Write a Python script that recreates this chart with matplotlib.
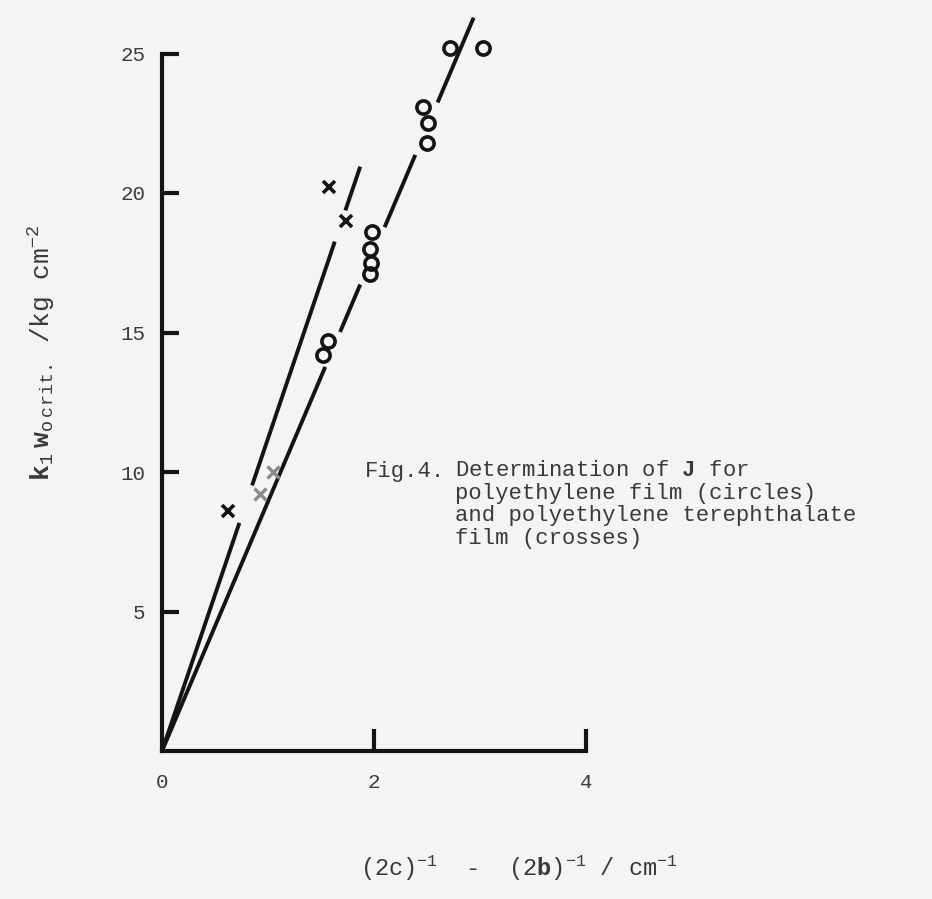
"""Fig.4 - Determination of J for polyethylene and PET film (typewriter-style replot)."""
import matplotlib
matplotlib.use('Agg')
import matplotlib.pyplot as plt

plt.rcParams['font.family'] = ['Liberation Mono', 'DejaVu Sans']
plt.rcParams['mathtext.fontset'] = 'custom'
plt.rcParams['mathtext.rm'] = 'Liberation Mono'
plt.rcParams['mathtext.it'] = 'Liberation Mono'
plt.rcParams['mathtext.bf'] = 'Liberation Mono:bold'

INK = '#141414'
TXT = '#3a3a3a'
BG = '#f4f4f2'

# --- data ---
# polyethylene film (circles)
pe_x = [2.72, 3.03, 2.46, 2.51, 2.50, 1.98, 1.96, 1.97, 1.96, 1.57, 1.52]
pe_y = [25.2, 25.2, 23.1, 22.5, 21.8, 18.6, 18.0, 17.5, 17.1, 14.7, 14.2]
# polyethylene terephthalate film (crosses)
pet_x = [1.58, 1.74, 0.62]
pet_y = [20.2, 19.0, 8.6]
pet_faint_x = [0.92, 1.05]
pet_faint_y = [9.2, 10.0]

# hand-drawn lines through the origin, drawn as broken segments
pe_slope = 8.94
pe_segments = [(0.0, 1.54), (1.68, 1.87), (2.10, 2.39), (2.60, 2.94)]
pet_slope = 11.2
pet_segments = [(0.0, 0.73), (0.85, 1.63), (1.73, 1.87)]

yticks = [5, 10, 15, 20, 25]
xticks = [0, 2, 4]

caption_head = "Fig.4."
caption_lines = [r"Determination of $\mathbf{J}$ for",
                 "polyethylene film (circles)",
                 "and polyethylene terephthalate",
                 "film (crosses)"]

# --- figure ---
W, H = 932, 899
fig = plt.figure(figsize=(W / 100, H / 100), dpi=100, facecolor=BG)
ax = fig.add_axes([162 / W, 148 / H, 770 / W, 751 / H])
ax.set_facecolor(BG)
ax.set_xlim(0, 770 / 106)
ax.set_ylim(0, 751 / 27.9)

for x0, x1 in pe_segments:
    ax.plot([x0, x1], [pe_slope * x0, pe_slope * x1], color=INK, lw=2.8,
            solid_capstyle='butt')
for x0, x1 in pet_segments:
    ax.plot([x0, x1], [pet_slope * x0, pet_slope * x1], color=INK, lw=2.8,
            solid_capstyle='butt')

ax.plot(pe_x, pe_y, 'o', ms=9.5, mfc='none', mec=INK, mew=2.6)
ax.plot(pet_x, pet_y, 'x', ms=9, mec=INK, mew=2.6)
ax.plot(pet_faint_x, pet_faint_y, 'x', ms=9, mec='#8a8a8a', mew=2.4)

for side in ('top', 'right'):
    ax.spines[side].set_visible(False)
ax.spines['left'].set_bounds(0, 25)
ax.spines['bottom'].set_bounds(0, 4)
for side in ('left', 'bottom'):
    ax.spines[side].set_linewidth(3)
    ax.spines[side].set_color(INK)

ax.set_yticks(yticks)
ax.set_xticks(xticks)
ax.tick_params(axis='y', direction='in', length=12, width=3, color=INK,
               pad=12, labelsize=15, labelcolor=TXT)
ax.tick_params(axis='x', direction='in', length=16, width=3, color=INK,
               pad=16, labelsize=15, labelcolor=TXT)
ax.xaxis.get_major_ticks()[0].tick1line.set_visible(False)

# axis titles
fig.text(42 / W, 1 - 353 / H,
         r"$\mathbf{k}_{1}\ \mathbf{w}_{\mathrm{o\ crit.}}$ /kg cm$^{-2}$",
         rotation=90, ha='center', va='center', fontsize=19, color=TXT)
fig.text(360 / W, 1 - 868 / H,
         r"(2c)$^{-1}$  -  (2$\mathbf{b}$)$^{-1}$ / cm$^{-1}$",
         ha='left', va='center', fontsize=17, color=TXT)

# caption
fig.text(365 / W, 1 - 471 / H, caption_head, ha='left', va='center',
         fontsize=16, color=TXT)
for i, line in enumerate(caption_lines):
    fig.text(455 / W, 1 - (471 + 22.5 * i) / H, line, ha='left', va='center',
             fontsize=16, color=TXT)

fig.savefig('out.png', dpi=100, facecolor=BG)
